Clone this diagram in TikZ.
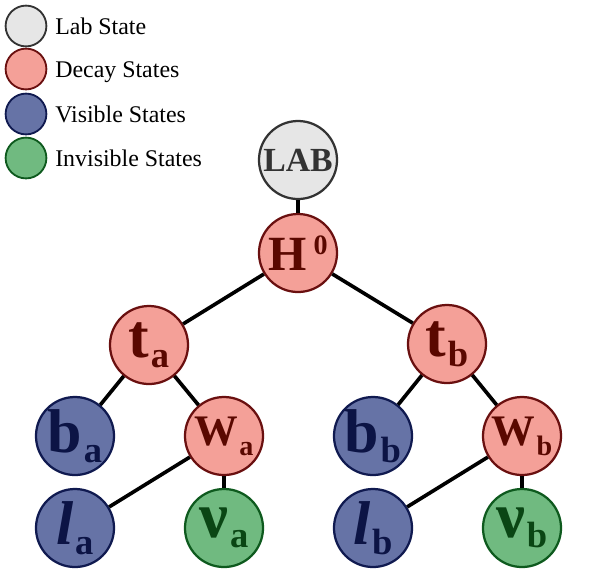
\documentclass[tikz,border=0pt]{standalone}
\usepackage{fontspec}
\setmainfont{Liberation Serif}
\usepackage{xcolor}
\usetikzlibrary{positioning}

\definecolor{labfill}{HTML}{E6E6E6}
\definecolor{labline}{HTML}{333333}
\definecolor{decfill}{HTML}{F4A098}
\definecolor{decline}{HTML}{6A1010}
\definecolor{dectext}{HTML}{5A0800}
\definecolor{visfill}{HTML}{6673A6}
\definecolor{visline}{HTML}{101A50}
\definecolor{vistext}{HTML}{0C1445}
\definecolor{invfill}{HTML}{70BA80}
\definecolor{invline}{HTML}{0E5A1E}
\definecolor{invtext}{HTML}{0A4614}

% big letter with a lowered index
\newcommand{\stname}[4]{{\fontsize{#1}{#1}\selectfont\bfseries #2}%
  \hspace{1pt}{\fontsize{#3}{#3}\selectfont\bfseries\raisebox{-7pt}{#4}}}

\begin{document}
\begin{tikzpicture}[x=0.025cm, y=-0.025cm,
  st/.style={circle, minimum size=1.95cm, inner sep=0pt, line width=1.6pt},
  labst/.style={st, draw=labline, fill=labfill, text=labline},
  decst/.style={st, draw=decline, fill=decfill, text=dectext},
  visst/.style={st, draw=visline, fill=visfill, text=vistext},
  invst/.style={st, draw=invline, fill=invfill, text=invtext},
  legdot/.style={circle, minimum size=1.02cm, inner sep=0pt, line width=1.3pt},
  legtext/.style={anchor=base west, inner sep=0pt, font=\fontsize{17}{17}\selectfont},
  link/.style={line width=2.6pt, black}
]
\useasboundingbox (0,0) rectangle (598,575);

% legend
\node[legdot, draw=labline, fill=labfill] (leg1) at (26,26) {};
\node[legdot, draw=decline, fill=decfill] (leg2) at (26,69) {};
\node[legdot, draw=visline, fill=visfill] (leg3) at (26,114) {};
\node[legdot, draw=invline, fill=invfill] (leg4) at (26,158) {};
\node[legtext] (legt1) at (55,34) {Lab State};
\node[legtext] (legt2) at (55,77) {Decay States};
\node[legtext] (legt3) at (55,122) {Visible States};
\node[legtext] (legt4) at (55,166) {Invisible States};

% tree
\node[labst] (lab) at (298,160) {\fontsize{24}{24}\selectfont\bfseries LAB};
\node[decst] (h0) at (298,253) {{\fontsize{35}{35}\selectfont\bfseries H}\hspace{5pt}{\fontsize{20}{20}\selectfont\bfseries\raisebox{11pt}{0}}};
\node[decst] (ta) at (149,345) {\stname{44}{t}{26}{a}};
\node[decst] (tb) at (447,344) {\stname{44}{t}{26}{b}};
\node[visst] (ba) at (75,436) {\stname{44}{b}{26}{a}};
\node[decst] (wa) at (224,436) {\stname{31}{W}{20}{a}};
\node[visst] (bb) at (373,436) {\stname{44}{b}{26}{b}};
\node[decst] (wb) at (522,436) {\stname{31}{W}{20}{b}};
\node[visst] (la) at (75,528) {\stname{44}{\itshape l}{26}{a}};
\node[invst] (nua) at (224,528) {\stname{46}{ν}{26}{a}};
\node[visst] (lb) at (373,528) {\stname{44}{\itshape l}{26}{b}};
\node[invst] (nub) at (522,528) {\stname{46}{ν}{26}{b}};

\draw[link] (lab) -- (h0);
\draw[link] (h0) -- (ta);
\draw[link] (h0) -- (tb);
\draw[link] (ta) -- (ba);
\draw[link] (ta) -- (wa);
\draw[link] (wa) -- (la);
\draw[link] (wa) -- (nua);
\draw[link] (tb) -- (bb);
\draw[link] (tb) -- (wb);
\draw[link] (wb) -- (lb);
\draw[link] (wb) -- (nub);
\end{tikzpicture}
\end{document}
